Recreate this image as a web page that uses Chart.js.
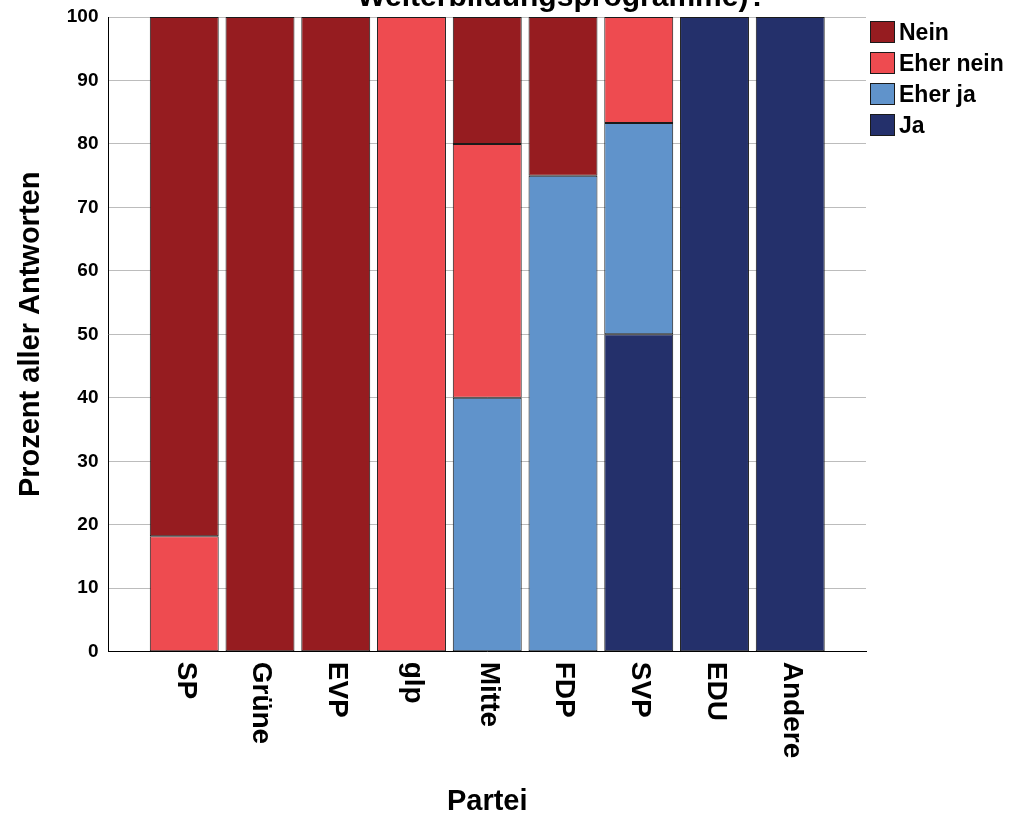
<!DOCTYPE html>
<html>
<head>
<meta charset="utf-8">
<script src="https://cdn.jsdelivr.net/npm/chart.js@4.4.0/dist/chart.umd.min.js"></script>
<style>
  html, body { margin: 0; padding: 0; background: #fff; }
  #wrap { position: relative; width: 1009px; height: 819px; overflow: hidden; }
  #legend { position: absolute; left: 870px; top: 21px; font: bold 23px "Liberation Sans", Arial, sans-serif; color: #000; }
  #legend .item { display: flex; align-items: center; height: 22px; margin-bottom: 9px; white-space: nowrap; }
  #legend .box { width: 23px; height: 20px; border: 1px solid #1a1a1a; margin-right: 4px; }
</style>
</head>
<body>
<div id="wrap">
  <canvas id="partyChart" width="1009" height="819"></canvas>
  <div id="legend"></div>
</div>
<script>
// categories and answer shares (percent of all answers per party)
const parteien = ['SP', 'Grüne', 'EVP', 'glp', 'Mitte', 'FDP', 'SVP', 'EDU', 'Andere'];
const ja       = [null, null, null, null, null, null, 50, 100, 100];
const eherJa   = [null, null, null, null, 40, 75, 33.3, null, null];
const eherNein = [18.2, null, null, 100, 40, null, 16.7, null, null];
const nein     = [81.8, 100, 100, null, 20, 25, null, null, null];
const yTicks   = [0, 10, 20, 30, 40, 50, 60, 70, 80, 90, 100];
const titleText = 'Weiterbildungsprogramme)?';

const fontFam = '"Liberation Sans", Arial, sans-serif';

// party index on a linear axis, so there is room left and right of the bars
const toPoints = arr => arr.map((v, i) => ({ x: i, y: v }));

// x labels read top to bottom, so draw them ourselves
const rotatedLabels = {
  id: 'rotatedLabels',
  afterDraw(chart) {
    const xs = chart.scales.x;
    const ctx = chart.ctx;
    ctx.save();
    ctx.font = 'bold 28px ' + fontFam;
    ctx.fillStyle = '#000';
    ctx.textAlign = 'left';
    ctx.textBaseline = 'middle';
    parteien.forEach((p, i) => {
      ctx.save();
      ctx.translate(xs.getPixelForValue(i) + 1, xs.top + 10);
      ctx.rotate(Math.PI / 2);
      ctx.fillText(p, 0, 0);
      ctx.restore();
    });
    ctx.restore();
  }
};

// the title is cut off at the top of the picture
const cutTitle = {
  id: 'cutTitle',
  afterDraw(chart) {
    const ctx = chart.ctx;
    ctx.save();
    ctx.font = 'bold 30px ' + fontFam;
    ctx.fillStyle = '#000';
    ctx.textAlign = 'center';
    ctx.textBaseline = 'alphabetic';
    ctx.fillText(titleText, 562, 6);
    ctx.restore();
  }
};

const barStyle = {
  borderColor: '#1a1a1a',
  borderWidth: 1,
  borderSkipped: false,
  barPercentage: 0.91,
  categoryPercentage: 1.0
};

const chart = new Chart(document.getElementById('partyChart').getContext('2d'), {
  type: 'bar',
  data: {
    datasets: [
      Object.assign({ label: 'Ja', data: toPoints(ja), backgroundColor: '#24306B' }, barStyle),
      Object.assign({ label: 'Eher ja', data: toPoints(eherJa), backgroundColor: '#6093CB' }, barStyle),
      Object.assign({ label: 'Eher nein', data: toPoints(eherNein), backgroundColor: '#EE4B50' }, barStyle),
      Object.assign({ label: 'Nein', data: toPoints(nein), backgroundColor: '#961C20' }, barStyle)
    ]
  },
  options: {
    responsive: false,
    animation: false,
    layout: { padding: { top: 2, bottom: 0, left: 0, right: 143 } },
    plugins: {
      tooltip: { enabled: false },
      title: { display: false },
      legend: { display: false }
    },
    scales: {
      x: {
        type: 'linear',
        stacked: true,
        offset: false,
        min: -1,
        max: parteien.length,
        afterBuildTicks(scale) {
          scale.ticks = parteien.map((p, i) => ({ value: i }));
        },
        grid: { display: false },
        border: { color: '#000', width: 1 },
        ticks: {
          autoSkip: false,
          minRotation: 90,
          maxRotation: 90,
          color: 'rgba(0,0,0,0)',
          callback: v => parteien[v] || '',
          font: { family: fontFam, size: 28, weight: 'bold' },
          padding: 8
        },
        title: {
          display: true,
          text: 'Partei',
          color: '#000',
          font: { family: fontFam, size: 29, weight: 'bold' },
          padding: { top: 12, bottom: 0 }
        }
      },
      y: {
        stacked: true,
        min: 0,
        max: 100,
        afterBuildTicks(scale) {
          scale.ticks = yTicks.map(v => ({ value: v }));
        },
        // tick padding would otherwise push the plot top down
        afterFit(scale) {
          scale.paddingTop = 17;
        },
        grid: { color: '#bcbcbc', lineWidth: 1, drawTicks: false },
        border: { color: '#000', width: 1 },
        ticks: {
          color: '#000',
          padding: 10,
          font: { family: fontFam, size: 19, weight: 'bold' }
        },
        title: {
          display: true,
          text: 'Prozent aller Antworten',
          color: '#000',
          font: { family: fontFam, size: 29, weight: 'bold' },
          padding: { top: 14, bottom: 8 }
        }
      }
    }
  },
  plugins: [rotatedLabels, cutTitle]
});

// legend in the reference order (top of stack first)
const legendEl = document.getElementById('legend');
chart.data.datasets.slice().reverse().forEach(ds => {
  const item = document.createElement('div');
  item.className = 'item';
  const box = document.createElement('span');
  box.className = 'box';
  box.style.background = ds.backgroundColor;
  item.appendChild(box);
  item.appendChild(document.createTextNode(ds.label));
  legendEl.appendChild(item);
});
</script>
</body>
</html>
